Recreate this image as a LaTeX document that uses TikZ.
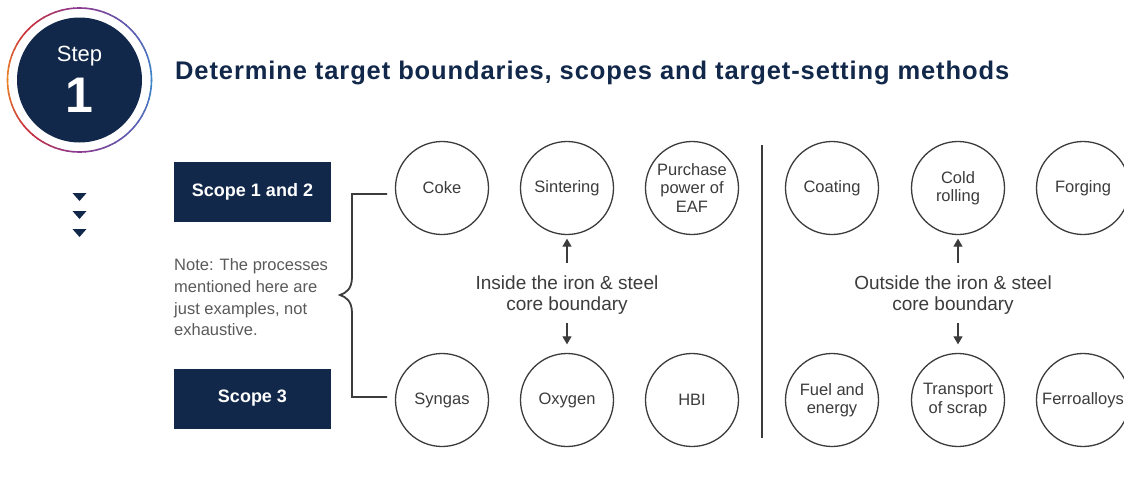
\documentclass[tikz,border=0pt]{standalone}
\usepackage{xcolor}
\usepackage{fontspec}
\setmainfont{Liberation Sans}
\newfontfamily\ttlfont[LetterSpace=3.5]{Liberation Sans}
\usepackage{tikz}
\usetikzlibrary{arrows.meta,calc}

\definecolor{navy}{HTML}{12284A}
\definecolor{txt}{HTML}{3C3C3C}
\definecolor{notec}{HTML}{5A5A5A}
\definecolor{rB}{HTML}{3E86C9}
\definecolor{rV}{HTML}{5E5BB0}
\definecolor{rP}{HTML}{8A3C8F}
\definecolor{rR}{HTML}{C8303E}
\definecolor{rO}{HTML}{E8832A}

\tikzset{
  proc/.style={circle,draw=txt,line width=1.3pt,minimum size=93pt,inner sep=0pt,
    align=center,text=txt,font=\fontsize{16.5}{18.5}\selectfont},
  scopebox/.style={fill=navy,text=white,minimum width=157pt,minimum height=60pt,
    inner sep=0pt,font=\bfseries\fontsize{18}{22}\selectfont},
  bnd/.style={align=center,text=txt,inner sep=0pt,font=\fontsize{19}{21}\selectfont},
  arr/.style={->,>={Triangle[length=8pt,width=9pt]},line width=1.2pt,draw=txt}
}

\begin{document}
\begin{tikzpicture}[x=1pt,y=-1pt]
\clip (0,0) rectangle (1124,479);
\fill[white] (0,0) rectangle (1124,479);

% step badge
\coordinate (ring) at (79.5,80);
\foreach \a/\ca/\cb in {0/rB/rV,45/rV/rP,90/rP/rR,135/rR/rO,180/rO/rR,225/rR/rP,270/rP/rV,315/rV/rB}{
  \foreach \t in {0,...,8}{
    \pgfmathtruncatemacro\pc{\t*100/8}
    \draw[line width=1.6pt,\cb!\pc!\ca] ($(ring)+(\a+\t*5:72)$)
      arc[start angle=\a+\t*5,end angle=\a+\t*5+5.6,radius=72];
  }
}
\node[circle,fill=navy,minimum size=125pt,inner sep=0pt] (stepc) at (ring) {};
\node[anchor=base,text=white,font=\fontsize{22}{24}\selectfont] (steplbl) at (79.5,61) {Step};
\node[anchor=base,text=white,font=\bfseries\fontsize{50}{50}\selectfont] (stepnum) at (79.5,112) {1};

\foreach \y in {193,211,229}
  \fill[navy] (72.5,\y) -- (86.5,\y) -- (79.5,\y+8) -- cycle;

% title
\node[anchor=base west,inner sep=0pt,text=navy,font=\ttlfont\bfseries\fontsize{25.5}{28}\selectfont] (title) at (175,79)
  {Determine target boundaries, scopes and target-setting methods};

% scopes
\node[scopebox] (s12) at (252.5,192) {Scope 1 and 2};
\node[scopebox] (s3) at (252.5,398.5) {Scope 3};
\node[anchor=north west,align=left,inner sep=0pt,text=notec,font=\fontsize{16.5}{21.7}\selectfont] (note) at (174,258.5)
  {Note: The processes\\mentioned here are\\just examples, not\\exhaustive.};

% bracket
\coordinate (bt) at (387,194);
\coordinate (bb) at (387,397);
\draw[line width=1.8pt,draw=txt] (bt) -- (352,194) -- (352,277)
  .. controls (352,289) and (346,293) .. (340,295)
  .. controls (346,297) and (352,301) .. (352,313) -- (352,397) -- (bb);

% inside processes
\node[proc] (coke) at (442,188) {Coke};
\node[proc] (sint) at (567,188) {Sintering};
\node[proc] (eaf) at (692,188) {Purchase\\power of\\EAF};
\node[proc] (syn) at (442,400) {Syngas};
\node[proc] (oxy) at (567,400) {Oxygen};
\node[proc] (hbi) at (692,400) {HBI};
\node[bnd,anchor=north] (inl) at (567,276) {Inside the iron \& steel\\core boundary};
\draw[arr,shorten <=13pt,shorten >=3.5pt] (inl.north) -- (sint.south);
\draw[arr,shorten <=8pt,shorten >=8.5pt] (inl.south) -- (oxy.north);

% divider
\coordinate (dt) at (762,145);
\coordinate (db) at (762,438);
\draw[line width=1.8pt,draw=txt] (dt) -- (db);

% outside processes
\node[proc] (coat) at (832,188) {Coating};
\node[proc] (cold) at (958,188) {Cold\\rolling};
\node[proc] (forg) at (1083,188) {Forging};
\node[proc] (fuel) at (832,400) {Fuel and\\energy};
\node[proc] (scrap) at (958,400) {Transport\\of scrap};
\node[proc] (ferro) at (1083,400) {Ferroalloys};
\node[bnd,anchor=north] (outl) at (953,276) {Outside the iron \& steel\\core boundary};
\draw[arr,shorten <=13pt,shorten >=3.5pt] (outl.north -| cold.south) -- (cold.south);
\draw[arr,shorten <=8pt,shorten >=8.5pt] (outl.south -| scrap.north) -- (scrap.north);
\end{tikzpicture}
\end{document}
